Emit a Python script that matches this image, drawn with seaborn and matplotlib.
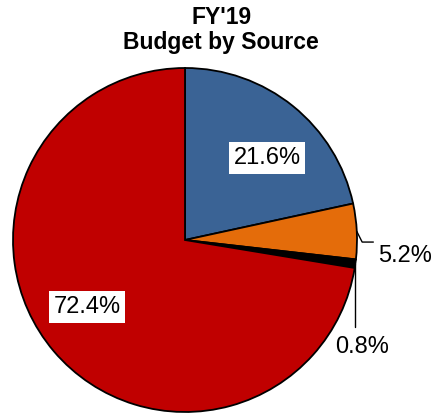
import numpy as np
import matplotlib
matplotlib.use("Agg")
import matplotlib.pyplot as plt
import seaborn as sns

sns.set_theme(style="white")
plt.rcParams["font.family"] = ["Liberation Sans", "DejaVu Sans"]
plt.rcParams["text.color"] = "black"

# Budget shares by source (percent), drawn clockwise from 12 o'clock
sources = ["Source A", "Source B", "Source C", "Source D"]
shares = [21.6, 5.2, 0.8, 72.4]
colors = ["#3A6395", "#E46C0A", "#000000", "#C00000"]
title_lines = ["FY'19", "Budget by Source"]

W, H = 445, 413
fig = plt.figure(figsize=(W / 100, H / 100), dpi=100)
cx, cy, r = 185, 240, 172
ax = fig.add_axes([(cx - r) / W, (H - cy - r) / H, 2 * r / W, 2 * r / H])

wedges, _ = ax.pie(
    shares, colors=colors, startangle=90, counterclock=False, radius=1.0,
    wedgeprops=dict(edgecolor="black", linewidth=1.3),
)
ax.set_xlim(-1, 1)
ax.set_ylim(-1, 1)
ax.set_aspect("equal")
ax.axis("off")
for w in wedges:
    w.set_clip_on(False)


def mid_point(w, rad=1.0):
    a = np.deg2rad((w.theta1 + w.theta2) / 2)
    return rad * np.cos(a), rad * np.sin(a)


fs = 17
box = dict(boxstyle="square,pad=0.2", facecolor="white", edgecolor="none")

# Inside labels
ax.text(0.477, 0.477, f"{shares[0]}%", ha="center", va="center", fontsize=fs,
        bbox=box)
ax.text(-0.57, -0.39, f"{shares[3]}%", ha="center", va="center", fontsize=fs,
        bbox=box)

# Outside label with elbow leader for the small orange slice
x0, y0 = mid_point(wedges[1])
ax.plot([x0, 1.03, 1.095], [y0, -0.012, -0.012], color="black", lw=1.0,
        clip_on=False)
ax.text(1.125, -0.095, f"{shares[1]}%", ha="left", va="center", fontsize=fs,
        clip_on=False)

# Outside label with vertical leader for the thin black slice
x1, y1 = mid_point(wedges[2])
ax.plot([x1, x1], [y1, -0.505], color="black", lw=1.0, clip_on=False)
ax.text(1.03, -0.62, f"{shares[2]}%", ha="center", va="center", fontsize=fs,
        clip_on=False)

fig.text(0.497, 1 - 6 / H, "\n".join(title_lines), ha="center", va="top",
         fontsize=16.5, fontweight="bold", linespacing=1.1)

fig.savefig("out.png", dpi=100)
